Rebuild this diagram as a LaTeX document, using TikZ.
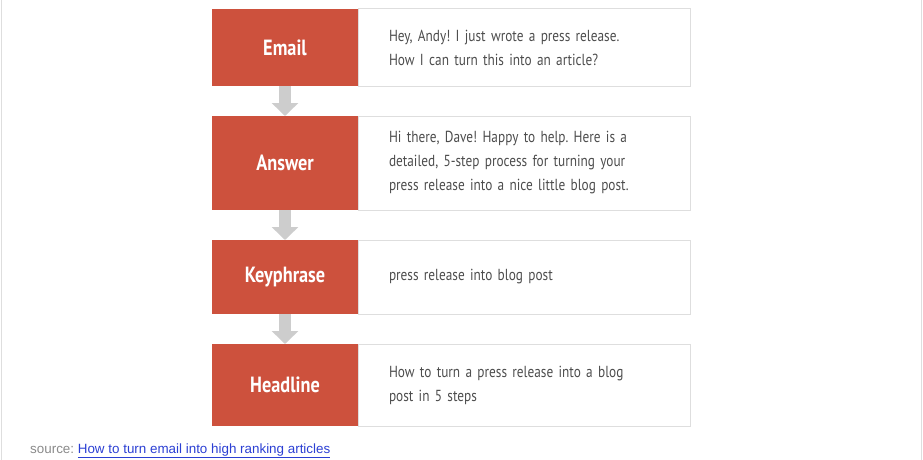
\documentclass[tikz,border=0pt]{standalone}
\usepackage{fontspec}
\setmainfont{Liberation Sans}
\newfontfamily\condfont[FakeStretch=0.83]{PT Sans}
\usetikzlibrary{positioning, arrows.meta}

\definecolor{boxred}{HTML}{CD513D}
\definecolor{arrowgray}{HTML}{CDCDCD}
\definecolor{framegray}{HTML}{DEDEDE}
\definecolor{textgray}{HTML}{4D4D4D}
\definecolor{sourcegray}{HTML}{8A8A8A}
\definecolor{linkblue}{HTML}{2B3FD3}

\tikzset{
	label box/.style={fill=boxred, text=white, minimum width=146pt, minimum height=#1, inner sep=0pt, outer sep=0pt,
		font=\condfont\bfseries\fontsize{22}{26}\selectfont},
	text box/.style={draw=framegray, line width=1pt, text=textgray, minimum height=#1, text width=270pt,
		inner xsep=31pt, inner ysep=0pt, outer sep=0pt, align=left, font=\condfont\fontsize{16}{24}\selectfont},
	down arrow/.style={draw=arrowgray, line width=12pt, -{Triangle[width=26pt, length=13pt]}},
}

\frenchspacing
\begin{document}
\begin{tikzpicture}[x=1pt, y=-1pt]
	\useasboundingbox (0, 0) rectangle (923, 460);
	\draw[framegray, line width=1.5pt] (1.5, 0) -- (1.5, 460);
	\draw[framegray, line width=1.5pt] (921.5, 0) -- (921.5, 460);

	\node[label box=77pt] (email) at (285, 47.5) {Email};
	\node[text box=77pt, right=0pt of email] (emailtxt) {Hey, Andy! I just wrote a press release.\\How I can turn this into an article?};

	\node[label box=94pt, below=30pt of email] (answer) {Answer};
	\node[text box=94pt, right=0pt of answer] (answertxt) {Hi there, Dave! Happy to help. Here is a\\detailed, 5-step process for turning your\\press release into a nice little blog post.};

	\node[label box=74pt, below=30pt of answer] (keyphrase) {Keyphrase};
	\node[text box=74pt, right=0pt of keyphrase] (keyphrasetxt) {press release into blog post};

	\node[label box=82pt, below=30pt of keyphrase] (headline) {Headline};
	\node[text box=82pt, right=0pt of headline] (headlinetxt) {How to turn a press release into a blog\\post in 5 steps};

	\draw[down arrow] (email) -- (answer);
	\draw[down arrow] (answer) -- (keyphrase);
	\draw[down arrow] (keyphrase) -- (headline);

	\node[anchor=base west, inner sep=0pt, font=\fontsize{13.4}{16}\selectfont] (source) at (30, 453)
		{\textcolor{sourcegray}{source:} \textcolor{linkblue}{\underline{How to turn email into high ranking articles}}};
\end{tikzpicture}
\end{document}
